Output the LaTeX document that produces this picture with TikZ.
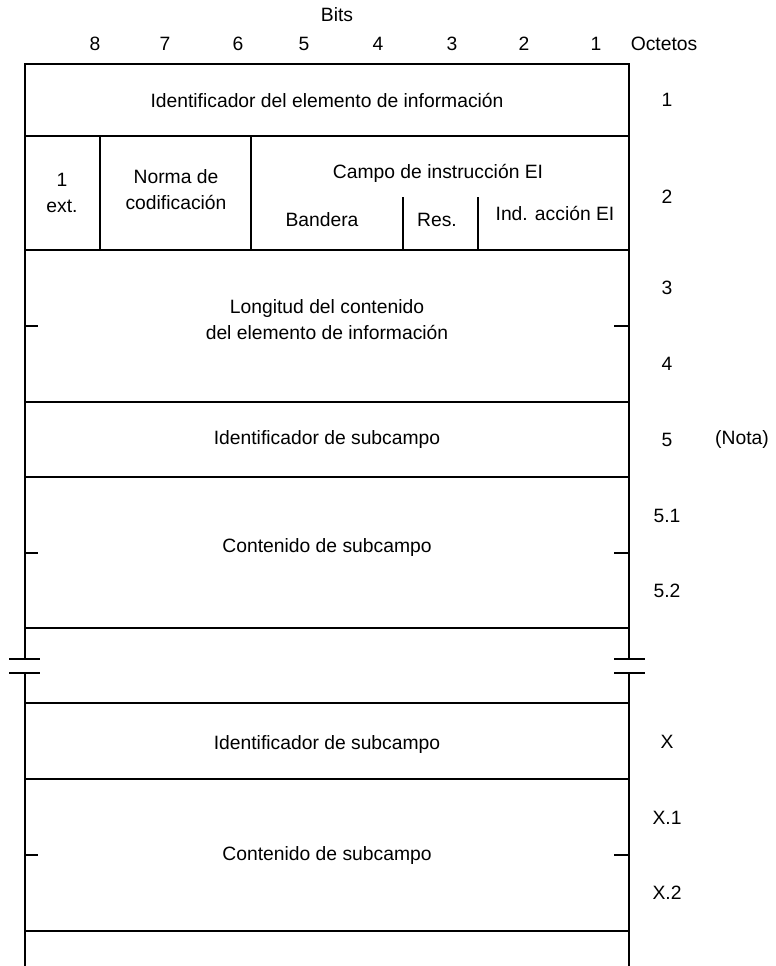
\documentclass[tikz,border=0pt]{standalone}
\usepackage{fontspec}
\setmainfont{Liberation Sans}
\usepackage{xcolor}
\usepackage{tikz}
\usetikzlibrary{positioning, calc}
\definecolor{cLine}{RGB}{0,0,0}
\tikzset{
	campo/.style  ={font=\fontsize{19.3}{26}\selectfont, align=center, inner sep=0pt},
	octnum/.style ={font=\fontsize{19.3}{24}\selectfont, inner sep=0pt},
	marco/.style  ={line width=2.3pt, draw=cLine},
	marca/.style  ={line width=2.3pt, draw=cLine},
}

\begin{document}
\begin{tikzpicture}[x=1pt, y=-1pt]
	\useasboundingbox (0,0) rectangle (776,966);
	% cabecera de bits
	\node[octnum] (bits) at (337,15) {Bits};
	\foreach \b/\x in {8/95,7/165,6/238,5/304,4/378,3/452,2/524,1/596}
		\node[octnum] (b\b) at (\x,44) {\b};
	\node[octnum] (octetos) at (664,44) {Octetos};
	% marco exterior con corte
	\draw[marco] (25,659) -- (25,64) -- (629,64) -- (629,659);
	\draw[marco] (25,673) -- (25,966);
	\draw[marco] (629,673) -- (629,966);
	\foreach \y in {659,673} {
		\draw[marca] (9,\y) -- (40,\y);
		\draw[marca] (614,\y) -- (645,\y);
	}
	% separaciones de octetos
	\foreach \y in {136,250,402,477,628,703,779,931}
		\draw[marco] (25,\y) -- (629,\y);
	\draw[marco] (100,136) -- (100,250);
	\draw[marco] (251,136) -- (251,250);
	\draw[marco] (403,197) -- (403,250);
	\draw[marco] (478,197) -- (478,250);
	% marcas de octetos intermedios
	\foreach \y in {326,553,855} {
		\draw[marca] (25,\y) -- (38,\y);
		\draw[marca] (614,\y) -- (629,\y);
	}
	% textos de los campos
	\node[campo] (ident) at (327,100) {Identificador del elemento de información};
	\node[campo] (ext) at (62,193) {1\\ext.};
	\node[campo] (norma) at (176,190) {Norma de\\codificación};
	\node[campo] (instr) at (438,173) {Campo de instrucción EI};
	\node[campo] (bandera) at (322,220) {Bandera};
	\node[campo] (res) at (437,220) {Res.};
	\node[campo] (accion) at (555,213) {Ind. acción EI};
	\node[campo] (longitud) at (327,320) {Longitud del contenido\\del elemento de información};
	\node[campo] (subid) at (327,440) {Identificador de subcampo};
	\node[campo] (subcont) at (327,548) {Contenido de subcampo};
	\node[campo] (subidx) at (327,745) {Identificador de subcampo};
	\node[campo] (subcontx) at (327,855) {Contenido de subcampo};
	% numeros de octeto
	\foreach \n/\y [count=\i] in {1/100,2/197,3/288,4/364,5/440,5.1/516,5.2/591,X/742,X.1/818,X.2/893}
		\node[octnum] (o\i) at (667,\y) {\n};
	\node[octnum] (nota) at (742,440) {(Nota)};
\end{tikzpicture}
\end{document}
